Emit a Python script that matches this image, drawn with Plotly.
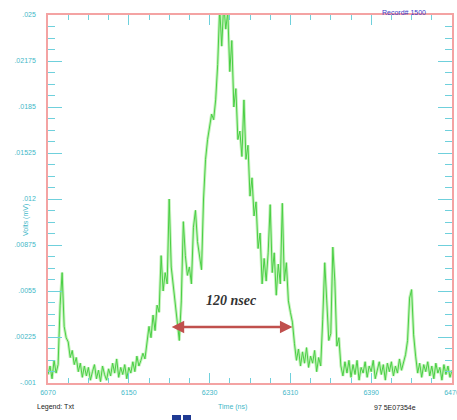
import plotly.graph_objects as go

# ---- data ----
time_ns = list(range(6070, 6472, 2))
volts = [
    -0.0004, 0.0002, -0.0007, 0.0006, -0.0003, 0.0003, 0.0045, 0.0068, 0.0030, 0.0022,
    0.0019, 0.0008, 0.0013, 0.0003, 0.0008, -0.0002, 0.0004, -0.0006, 0.0002, -0.0005,
    0.0001, -0.0008, -0.0002, 0.0003, -0.0007, -0.0001, -0.0009, 0.0002, -0.0004, -0.0008,
    0.0000, -0.0005, 0.0004, -0.0003, 0.0007, -0.0006, 0.0001, -0.0004, 0.0003, -0.0007,
    0.0001, -0.0003, 0.0005, -0.0002, 0.0009, 0.0002, 0.0006, 0.0011, 0.0007, 0.0018,
    0.0030, 0.0022, 0.0038, 0.0027, 0.0045, 0.0040, 0.0080, 0.0055, 0.0068, 0.0060,
    0.0120, 0.0072, 0.0058, 0.0049, 0.0035, 0.0020, 0.0048, 0.0104, 0.0080, 0.0066,
    0.0072, 0.0060, 0.0100, 0.0112, 0.0090, 0.0078, 0.0070, 0.0120, 0.0148, 0.0162,
    0.0172, 0.0180, 0.0176, 0.0190, 0.0215, 0.0255, 0.0228, 0.0258, 0.0240, 0.0252,
    0.0210, 0.0232, 0.0185, 0.0198, 0.0162, 0.0168, 0.0150, 0.0190, 0.0148, 0.0158,
    0.0122, 0.0135, 0.0108, 0.0118, 0.0085, 0.0096, 0.0060, 0.0078, 0.0062, 0.0082,
    0.0116, 0.0068, 0.0082, 0.0052, 0.0074, 0.0060, 0.0117, 0.0062, 0.0075, 0.0048,
    0.0040, 0.0033, 0.0018, 0.0006, 0.0014, 0.0002, 0.0012, 0.0004, 0.0015, 0.0001,
    0.0009, 0.0004, 0.0013, -0.0002, 0.0008, 0.0002, 0.0035, 0.0075, 0.0048, 0.0020,
    0.0025, 0.0086, 0.0062, 0.0016, 0.0022, 0.0002, -0.0005, 0.0005, -0.0003, 0.0006,
    -0.0006, 0.0003, -0.0004, 0.0006, -0.0008, 0.0001, -0.0003, 0.0005, -0.0006, 0.0002,
    -0.0002, 0.0006, -0.0007, 0.0000, 0.0005, -0.0004, 0.0003, -0.0008, 0.0004, -0.0002,
    0.0005, -0.0005, 0.0002, -0.0003, 0.0007, -0.0001, 0.0004, 0.0010, 0.0020, 0.0050,
    0.0056, 0.0024, 0.0009, -0.0003, 0.0004, -0.0006, 0.0003, -0.0002, 0.0005, -0.0005,
    0.0002, -0.0007, 0.0004, -0.0003, 0.0001, -0.0008, 0.0003, -0.0004, 0.0002, -0.0006,
    -0.0001,
]
x_tick_vals = [6070, 6150, 6230, 6310, 6390, 6470]
x_tick_text = ["6070", "6150", "6230", "6310", "6390", "6470"]
y_tick_vals = [-0.001, 0.00225, 0.0055, 0.00875, 0.012, 0.01525, 0.0185, 0.02175, 0.025]
y_tick_text = ["-.001", ".00225", ".0055", ".00875", ".012", ".01525", ".0185", ".02175", ".025"]
pulse_start, pulse_end, pulse_level = 6191, 6312, 0.00296
pulse_label = "120 nsec"

X_RANGE = [6070, 6470]
Y_RANGE = [-0.001, 0.025]
TICK_C = "#6fd0dc"
LABEL_C = "#3fb8c8"
BORDER_C = "#f4a3a3"

fig = go.Figure()
# light halo underneath (primary axes), crisp line on top (overlay axes)
fig.add_trace(go.Scatter(x=time_ns, y=volts, mode="lines",
                         line=dict(color="#c4f2bb", width=3.0),
                         hoverinfo="skip", showlegend=False))
fig.add_trace(go.Scatter(x=time_ns, y=volts, mode="lines",
                         line=dict(color="#4acf45", width=1.0),
                         xaxis="x2", yaxis="y2", showlegend=False))

tickfont = dict(family="Liberation Sans", size=7, color=LABEL_C)
common_x = dict(range=X_RANGE, showgrid=False, zeroline=False, automargin=False,
                showline=True, linecolor=BORDER_C, linewidth=1.5,
                ticks="inside", ticklen=10, tickwidth=1, tickcolor=TICK_C,
                tickvals=x_tick_vals,
                minor=dict(ticks="inside", ticklen=5, tickcolor=TICK_C,
                           tick0=6070, dtick=20, showgrid=False))
common_y = dict(range=Y_RANGE, showgrid=False, zeroline=False, automargin=False,
                showline=True, linecolor=BORDER_C, linewidth=1.5,
                ticks="inside", ticklen=14, tickwidth=1, tickcolor=TICK_C,
                tickvals=y_tick_vals,
                minor=dict(ticks="inside", ticklen=7, tickcolor=TICK_C,
                           tick0=-0.001, dtick=0.0008125, showgrid=False))

fig.update_layout(
    width=457, height=420,
    margin=dict(l=48, r=5, t=15, b=37, autoexpand=False),
    paper_bgcolor="white", plot_bgcolor="white",
    xaxis=dict(**common_x, ticktext=x_tick_text, tickfont=tickfont,
               mirror=True, ticklabelstandoff=2, ticklabeloverflow="allow"),
    yaxis=dict(**common_y, ticktext=y_tick_text, tickfont=tickfont,
               mirror=True, ticklabelstandoff=9),
    xaxis2=dict(**common_x, overlaying="x", side="top", showticklabels=False),
    yaxis2=dict(**common_y, overlaying="y", side="right", showticklabels=False),
)

# double-headed arrow and label
fig.add_annotation(x=pulse_end, y=pulse_level, ax=pulse_start, ay=pulse_level,
                   xref="x", yref="y", axref="x", ayref="y",
                   showarrow=True, arrowhead=2, startarrowhead=2, arrowside="end+start",
                   arrowsize=1, startarrowsize=1, arrowwidth=2.5, arrowcolor="#c0504d", text="")
fig.add_annotation(x=(pulse_start + pulse_end) / 2, y=pulse_level, xref="x", yref="y",
                   yshift=26, showarrow=False, text="<b><i>" + pulse_label + "</i></b>",
                   font=dict(family="Liberation Serif", size=14, color="#333333"))

def px_x(p):
    return (p - 48) / 404

def px_y(p):
    return (383 - p) / 368

fig.add_annotation(x=px_x(20), y=px_y(220), xref="paper", yref="paper", showarrow=False,
                   text="Volts (mV)", textangle=-90,
                   font=dict(family="Liberation Sans", size=7, color=LABEL_C))
fig.add_annotation(x=px_x(232), y=px_y(413), xref="paper", yref="paper", showarrow=False,
                   text="Time (ns)", font=dict(family="Liberation Sans", size=7, color=LABEL_C))
fig.add_annotation(x=px_x(35), y=px_y(413), xref="paper", yref="paper", showarrow=False,
                   text="Legend: Txt", font=dict(family="Liberation Sans", size=7, color="#222222"))
fig.add_annotation(x=px_x(418), y=px_y(413), xref="paper", yref="paper", showarrow=False,
                   text="97 5E07354e", font=dict(family="Liberation Sans", size=7, color="#222222"))
fig.add_annotation(x=px_x(428), y=px_y(7), xref="paper", yref="paper", showarrow=False,
                   text="Record# 1500", font=dict(family="Liberation Sans", size=7, color="#3a3ac8"))

for x0, x1 in [(172, 181), (183, 191)]:
    fig.add_shape(type="rect", xref="paper", yref="paper",
                  x0=px_x(x0), x1=px_x(x1), y0=px_y(420), y1=px_y(415),
                  fillcolor="#1f3a93", line=dict(width=0))

fig.write_html("out.html", config={"displayModeBar": False},
               post_script="document.body.style.margin='0';document.body.style.overflow='hidden';")
